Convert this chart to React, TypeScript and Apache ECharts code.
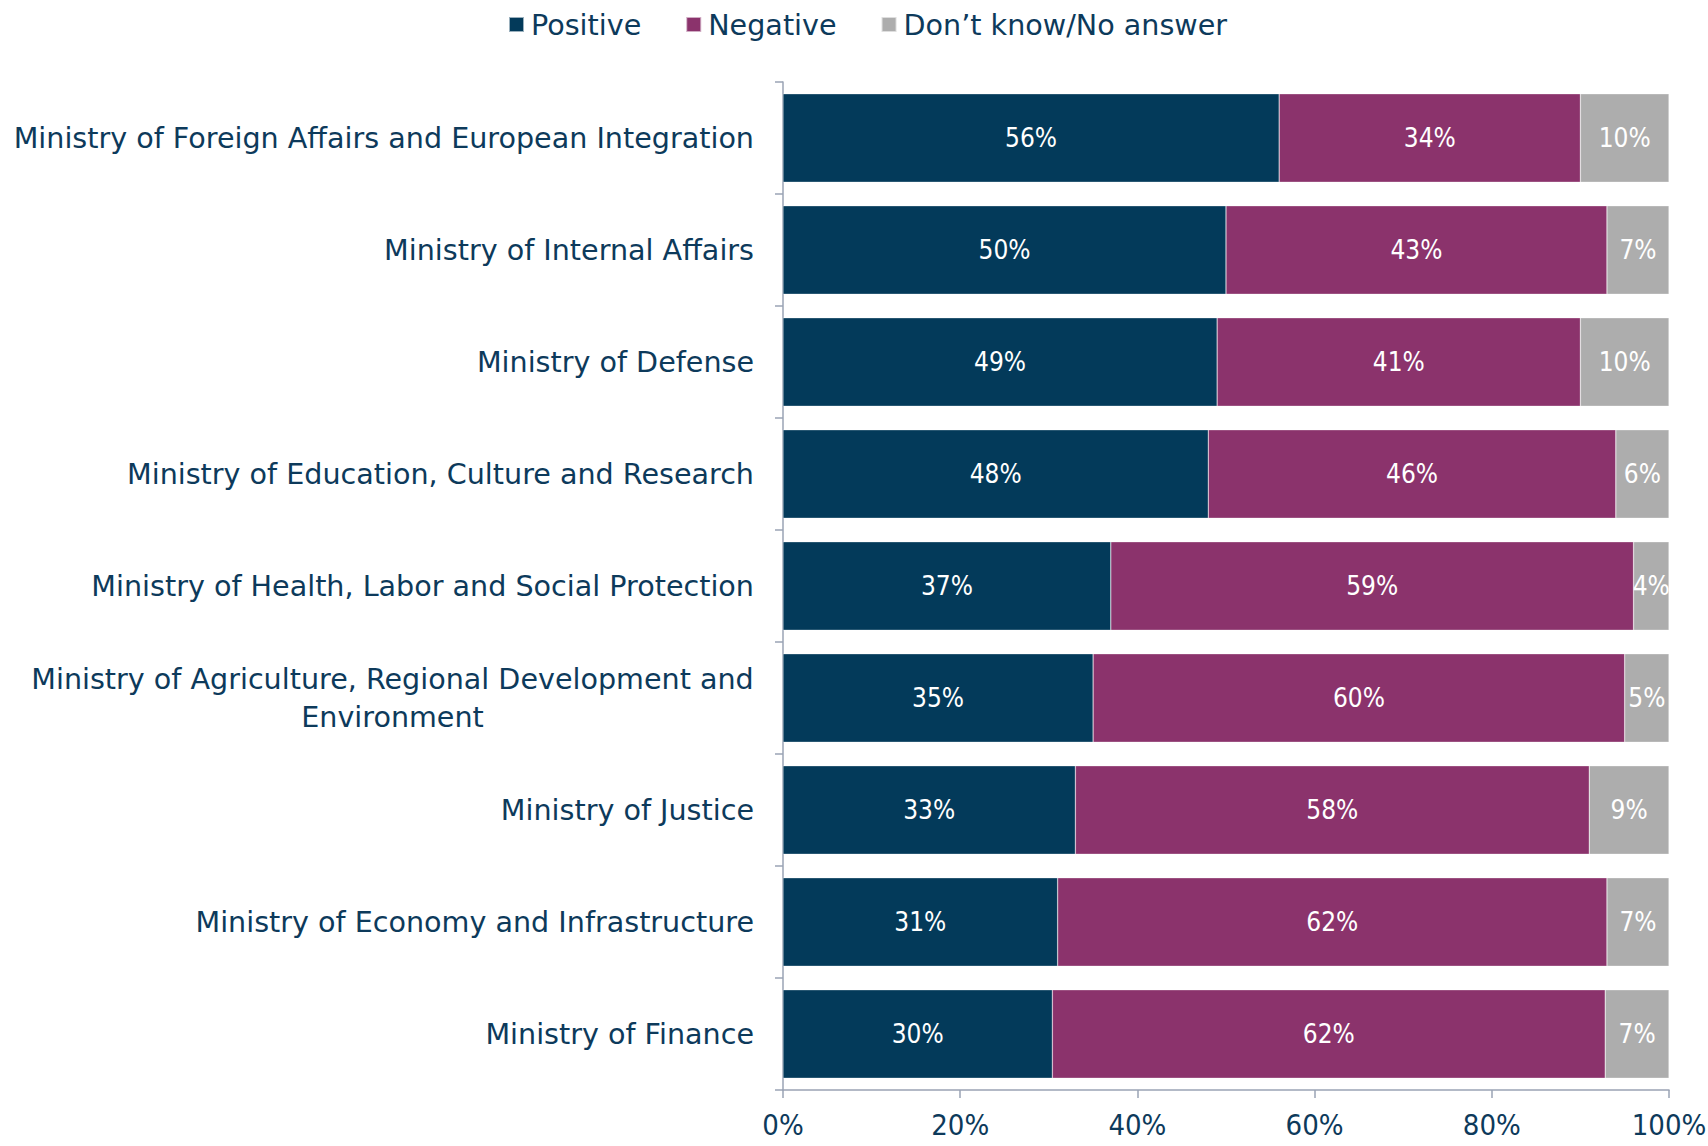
import React, { useEffect, useRef } from "react";
import * as echarts from "echarts";

const categories = [
  "Ministry of Foreign Affairs and European Integration",
  "Ministry of Internal Affairs",
  "Ministry of Defense",
  "Ministry of Education, Culture and Research",
  "Ministry of Health, Labor and Social Protection",
  "Ministry of Agriculture, Regional Development and\nEnvironment",
  "Ministry of Justice",
  "Ministry of Economy and Infrastructure",
  "Ministry of Finance",
];
const positive = [56, 50, 49, 48, 37, 35, 33, 31, 30.4];
const negative = [34, 43, 41, 46, 59, 60, 58, 62, 62.4];
const dontKnow = [10, 7, 10, 6, 4, 5, 9, 7, 7.2];
const seriesNames = ["Positive", "Negative", "Don’t know/No answer"];
const colors = ["#033A5A", "#8B336C", "#ADADAD"];
const tickLabels = ["0%", "20%", "40%", "60%", "80%", "100%"];

const FONT = "'DejaVu Sans', sans-serif";
const NARROW = "'DejaVu Sans Condensed', sans-serif";
const TEXT = "#0D3A5B";
const CAT_SIZE = 28.6;

export default function App() {
  const ref = useRef<HTMLDivElement>(null);
  useEffect(() => {
    if (!ref.current) return;
    const chart = echarts.init(ref.current, null, { renderer: "svg" });
    const canvas = document.createElement("canvas");
    const ctx = canvas.getContext("2d")!;
    ctx.font = `${CAT_SIZE}px ${FONT}`;
    const lineW = (s: string) => Math.ceil(ctx.measureText(s).width);

    const mkSeries = (name: string, data: number[], color: string) => ({
      name,
      type: "bar",
      stack: "total",
      data,
      barCategoryGap: "21%",
      itemStyle: { color, borderColor: "rgba(255,255,255,0.6)", borderWidth: 0.5 },
      label: {
        show: true,
        position: "inside",
        color: "#FFFFFF",
        fontFamily: NARROW,
        fontSize: 26,
        formatter: (p: any) => `${Math.round(p.value)}%`,
      },
    });

    chart.setOption({
      animation: false,
      backgroundColor: "#FFFFFF",
      legend: {
        top: 5,
        left: 503,
        itemWidth: 15,
        itemHeight: 15,
        itemGap: 44,
        icon: "rect",
        textStyle: { color: TEXT, fontFamily: FONT, fontSize: CAT_SIZE, padding: [0, 0, 0, 2] },
        data: seriesNames,
      },
      grid: {
        left: 783,
        right: 39,
        top: 82,
        bottom: 56,
        containLabel: false,
        outerBoundsMode: "none",
      },
      xAxis: {
        type: "value",
        min: 0,
        max: 100,
        interval: 20,
        axisLine: { show: true, lineStyle: { color: "#9AA3B4", width: 1.5 } },
        axisTick: { show: true, length: 8, lineStyle: { color: "#9AA3B4", width: 1.5 } },
        splitLine: { show: false },
        axisLabel: {
          color: TEXT,
          fontFamily: NARROW,
          fontSize: 29,
          margin: 20,
          formatter: (v: number) => tickLabels[Math.round(v / 20)],
        },
      },
      yAxis: {
        type: "category",
        inverse: true,
        data: categories,
        axisLine: { show: true, lineStyle: { color: "#9AA3B4", width: 1.5 } },
        axisTick: { show: true, length: 8, lineStyle: { color: "#9AA3B4", width: 1.5 } },
        axisLabel: {
          color: TEXT,
          fontFamily: FONT,
          fontSize: CAT_SIZE,
          margin: 29,
          lineHeight: 38,
          formatter: (v: string) => {
            if (v.indexOf("\n") < 0) return v;
            return v
              .split("\n")
              .map((p) => `{c|${p}}`)
              .join("\n");
          },
          rich: {
            c: {
              color: TEXT,
              fontFamily: FONT,
              fontSize: CAT_SIZE,
              lineHeight: 38,
              width: lineW("Ministry of Agriculture, Regional Development and"),
              align: "center",
            },
          },
        },
      },
      series: [
        mkSeries(seriesNames[0], positive, colors[0]),
        mkSeries(seriesNames[1], negative, colors[1]),
        mkSeries(seriesNames[2], dontKnow, colors[2]),
      ],
    });
    return () => chart.dispose();
  }, []);
  return (
    <div
      ref={ref}
      style={{ position: "fixed", left: 0, top: 0, width: 1708, height: 1146 }}
    />
  );
}
